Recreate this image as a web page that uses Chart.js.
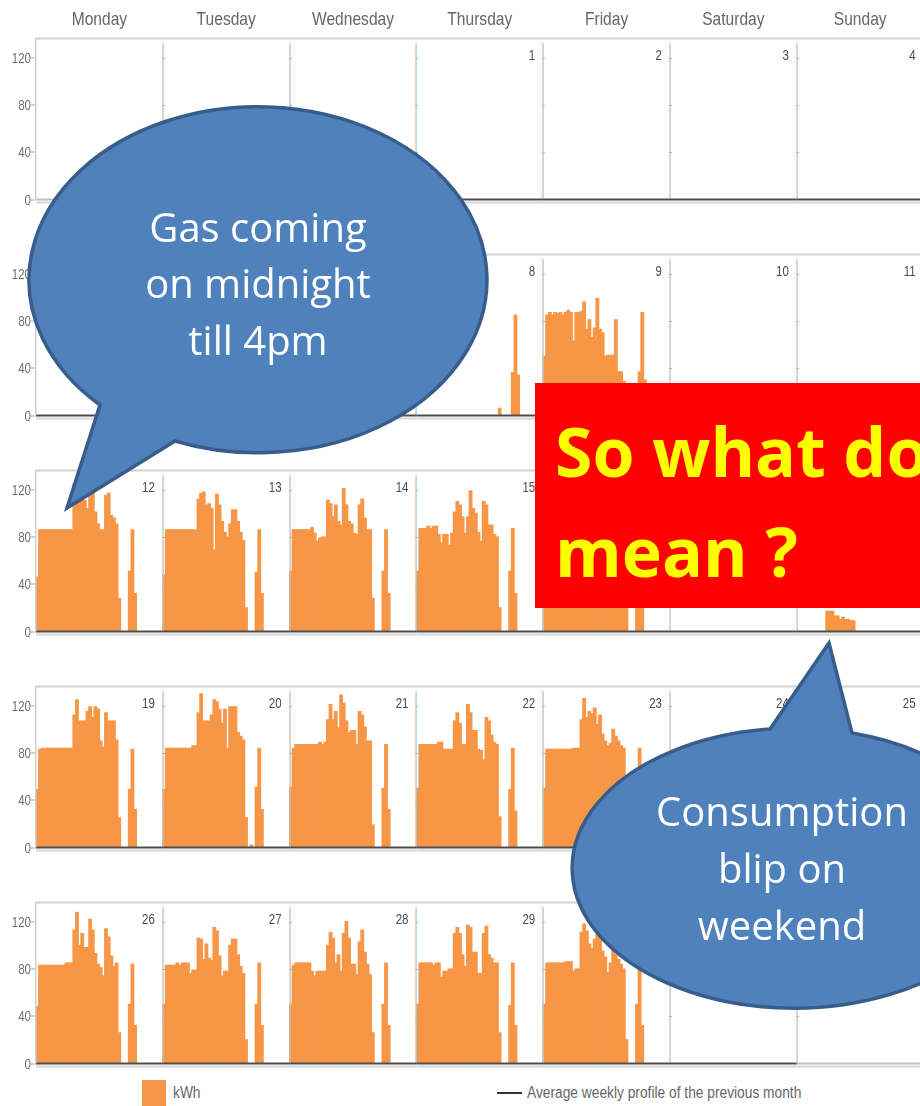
<!DOCTYPE html>
<html>
<head>
<meta charset="utf-8">
<script src="https://cdn.jsdelivr.net/npm/chart.js@4.4.1/dist/chart.umd.min.js"></script>
<style>
  html, body { margin: 0; padding: 0; background: #fff; width: 920px; height: 1106px; overflow: hidden; }
  #calendar { position: absolute; left: 0; top: 0; width: 920px; height: 1106px; }
  .lbl { position: absolute; font: 16px "Liberation Sans", sans-serif; color: #666; transform: scaleX(0.86); transform-origin: 0 0; white-space: nowrap; }
  #notes { position: absolute; left: 0; top: 0; }
</style>
</head>
<body>
<div id="calendar"></div>
<div id="legend"></div>
<svg id="notes" width="920" height="1106">
  <path d="M 100 405 L 67 508 L 175 441 A 229 173 0 1 0 100 405 Z" fill="#4f81bd" stroke="#385d8a" stroke-width="3.5"/>
  <g font-family="Open Sans, sans-serif" font-size="40" fill="#fff" text-anchor="middle">
    <text x="258" y="242">Gas coming</text>
    <text x="258" y="298">on midnight</text>
    <text x="258" y="355">till 4pm</text>
  </g>
  <rect x="535" y="383" width="400" height="225" fill="#ff0000"/>
  <g font-family="Open Sans, sans-serif" font-size="68" font-weight="bold" fill="#ffff00">
    <text x="555" y="477">So what does this</text>
    <text x="555" y="577">mean ?</text>
  </g>
  <path d="M 770 729 L 829 643 L 852 733 A 222 140 0 1 1 770 729 Z" fill="#4f81bd" stroke="#385d8a" stroke-width="3.5"/>
  <g font-family="Open Sans, sans-serif" font-size="40" fill="#fff" text-anchor="middle">
    <text x="782" y="826">Consumption</text>
    <text x="782" y="883">blip on</text>
    <text x="782" y="940">weekend</text>
  </g>
</svg>
<script>
const dayNames = ['Monday', 'Tuesday', 'Wednesday', 'Thursday', 'Friday', 'Saturday', 'Sunday'];
const weekDates = [
  [null, null, null, 1, 2, 3, 4],
  [5, 6, 7, 8, 9, 10, 11],
  [12, 13, 14, 15, 16, 17, 18],
  [19, 20, 21, 22, 23, 24, 25],
  [26, 27, 28, 29, 30, 31, null]
];
const yTicks = [0, 40, 80, 120];
const yMax = 135;
const legendLabels = ['kWh', 'Average weekly profile of the previous month'];

// half-hourly kWh, 48 slots per day
const kwh8  = [0,0,0,0,0,0,0,0,0,0,0,0,0,0,0,0,0,0,0,0,0,0,0,0,0,0,0,0,0,0,0,6,0,0,0,0,36,85,34,0,0,0,0,0,0,0,0,0];
const kwh9  = [50,85,87,85,87,86,87,85,87,89,87,63,87,87,88,96,73,81,66,74,99,73,70,50,51,51,51,81,37,37,29,15,0,0,0,0,37,87,30,0,0,0,0,0,0,0,0,0];
const kwh12 = [46,86,86,86,86,86,86,86,86,86,86,86,86,86,125,128,118,115,111,104,117,117,101,91,86,86,115,117,98,96,91,28,0,0,0,51,86,32,0,0,0,0,0,0,0,0,0,0];
const kwh13 = [48,86,86,86,86,86,86,86,86,86,86,86,86,112,117,118,107,108,104,69,116,107,93,84,80,91,103,103,93,84,77,20,0,0,0,50,86,32,0,0,0,0,0,0,0,0,0,0];
const kwh14 = [51,86,86,86,86,86,86,86,88,83,76,79,80,80,111,108,97,107,93,90,121,107,93,91,83,82,107,112,96,86,86,28,0,0,0,51,86,32,0,0,0,0,0,0,0,0,0,0];
const kwh15 = [51,87,87,87,89,87,89,89,82,75,82,82,73,83,101,110,107,97,83,97,119,104,100,84,76,110,107,90,90,82,80,20,0,0,0,51,87,32,0,0,0,0,0,0,0,0,0,0];
const kwh16 = [50,86,86,86,86,86,86,86,86,86,86,86,86,88,104,112,100,96,92,108,118,98,90,84,80,102,106,92,88,84,80,22,0,0,0,50,86,32,0,0,0,0,0,0,0,0,0,0];
const kwh18 = [0,0,0,0,0,0,0,0,0,0,0,17,17,17,13,13,10,12,10,10,9,9,0,0,0,0,0,0,0,0,0,0,0,0,0,0,0,0,0,0,0,0,0,0,0,0,0,0];
const kwh19 = [49,83,84,84,84,84,84,84,84,84,84,84,84,84,112,125,107,107,107,115,119,110,119,117,90,85,114,107,107,107,91,25,0,0,0,49,83,32,0,0,0,0,0,0,0,0,0,0];
const kwh20 = [49,84,84,84,84,84,84,84,84,84,84,86,86,114,130,107,107,107,112,125,123,117,105,117,84,119,119,119,97,94,91,25,0,2,0,51,84,32,0,0,0,0,0,0,0,0,0,0];
const kwh21 = [51,84,87,87,87,87,87,87,87,87,87,89,87,89,108,121,108,115,101,129,122,107,97,99,99,87,115,112,102,90,90,19,0,0,0,50,87,32,0,0,0,0,0,0,0,0,0,0];
const kwh22 = [50,87,87,87,87,87,87,87,89,89,83,83,83,83,107,114,105,87,87,121,114,99,99,83,82,74,110,107,95,89,87,26,0,0,0,49,84,31,0,0,0,0,0,0,0,0,0,0];
const kwh23 = [50,83,83,83,83,83,83,83,83,83,83,84,84,84,108,126,110,115,113,118,104,112,96,90,86,88,100,94,90,86,84,24,0,0,0,50,84,32,0,0,0,0,0,0,0,0,0,0];
const kwh26 = [48,83,83,83,83,83,83,83,83,83,83,85,85,85,113,128,100,110,98,98,122,113,93,84,81,74,114,107,91,82,85,26,0,0,0,50,84,32,0,0,0,0,0,0,0,0,0,0];
const kwh27 = [50,83,83,83,83,85,83,85,85,85,76,79,79,106,105,88,101,89,87,115,112,91,74,78,78,100,105,105,92,82,76,20,0,0,0,50,85,32,0,0,0,0,0,0,0,0,0,0];
const kwh28 = [50,83,85,85,85,85,85,85,78,74,78,78,78,78,100,111,106,85,92,78,110,120,106,84,84,75,103,113,94,84,75,26,0,0,0,50,85,32,0,0,0,0,0,0,0,0,0,0];
const kwh29 = [50,85,85,85,85,85,83,85,85,73,78,78,80,80,110,115,110,92,82,117,115,94,94,76,76,110,116,92,89,85,85,26,0,0,0,49,85,32,0,0,0,0,0,0,0,0,0,0];
const kwh30 = [50,85,85,85,85,85,85,85,86,86,86,78,80,80,111,118,112,101,97,105,115,108,95,90,77,85,100,92,88,84,80,20,0,0,0,50,85,32,0,0,0,0,0,0,0,0,0,0];

const dailyKwh = {
  8: kwh8, 9: kwh9, 12: kwh12, 13: kwh13, 14: kwh14, 15: kwh15, 16: kwh16, 18: kwh18,
  19: kwh19, 20: kwh20, 21: kwh21, 22: kwh22, 23: kwh23,
  26: kwh26, 27: kwh27, 28: kwh28, 29: kwh29, 30: kwh30
};

const SLOTS = 48;
const barColor = '#f79646';

function narrowText(ctx, text, x, y, size, align, color) {
  ctx.save();
  ctx.font = size + 'px "Liberation Sans", sans-serif';
  ctx.fillStyle = color;
  ctx.textAlign = align;
  ctx.textBaseline = 'alphabetic';
  ctx.translate(x, y);
  ctx.scale(0.82, 1);
  ctx.fillText(text, 0, 0);
  ctx.restore();
}

const calendarGrid = {
  id: 'calendarGrid',
  afterDatasetsDraw(chart, args, opts) {
    const { ctx, chartArea: a, scales: { x, y } } = chart;
    const half = (x.getPixelForValue(1) - x.getPixelForValue(0)) / 2;
    const edge = d => x.getPixelForValue(d * SLOTS) - half;
    const dates = opts.dates;
    ctx.save();

    // top border
    ctx.fillStyle = '#d2d2d2';
    ctx.fillRect(a.left, a.top - 2.5, a.right - a.left + 10, 2);

    // day dividers
    for (let d = 1; d < 7; d++) {
      const px = Math.round(edge(d));
      ctx.fillStyle = 'rgba(245, 170, 130, 0.55)';
      ctx.fillRect(px - 1, a.top + 3, 1, a.bottom - a.top - 3);
      ctx.fillStyle = 'rgba(150, 210, 240, 0.75)';
      ctx.fillRect(px, a.top + 3, 1, a.bottom - a.top - 3);
      ctx.fillStyle = '#b8b8b8';
      yTicks.slice(1).forEach(v => ctx.fillRect(px - 1, Math.round(y.getPixelForValue(v)), 3, 1));
    }

    // baseline per day
    for (let d = 0; d < 7; d++) {
      const x0 = edge(d), x1 = edge(d + 1);
      ctx.fillStyle = dates[d] ? '#4d4d4d' : '#bdbdbd';
      ctx.fillRect(x0, a.bottom - 1, x1 - x0, 2);
      ctx.fillStyle = '#d6d6d6';
      ctx.fillRect(x0, a.bottom + 2, x1 - x0, 2);
    }

    // y axis
    ctx.fillStyle = '#cfcfcf';
    ctx.fillRect(a.left - 1, a.top - 2, 1.5, a.bottom - a.top + 2);
    yTicks.forEach(v => {
      const py = y.getPixelForValue(v);
      ctx.fillStyle = '#aaa';
      ctx.fillRect(a.left - 5, Math.round(py) - 0.5, 4, 1);
      narrowText(ctx, String(v), a.left - 5, py + 5, 14, 'right', '#6e6e6e');
    });

    // day numbers
    dates.forEach((n, d) => {
      if (n) narrowText(ctx, String(n), edge(d + 1) - 8, a.top + 20, 14, 'right', '#4a4a4a');
    });

    // weekday headers
    if (opts.header) {
      dayNames.forEach((name, d) => {
        narrowText(ctx, name, (edge(d) + edge(d + 1)) / 2, a.top - 15, 19, 'center', '#666');
      });
    }
    ctx.restore();
  }
};

function weekSeries(dates) {
  const out = [];
  dates.forEach(n => {
    const day = dailyKwh[n];
    for (let s = 0; s < SLOTS; s++) out.push(day ? day[s] : null);
  });
  return out;
}

function weekLabels() {
  const out = [];
  dayNames.forEach(name => {
    for (let s = 0; s < SLOTS; s++) out.push(name + ' ' + s);
  });
  return out;
}

const calendar = document.getElementById('calendar');
weekDates.forEach((dates, r) => {
  const canvas = document.createElement('canvas');
  canvas.width = 930;
  canvas.height = 216;
  canvas.style.cssText = 'position:absolute;left:0;top:' + (r * 216) + 'px';
  calendar.appendChild(canvas);

  new Chart(canvas.getContext('2d'), {
    type: 'bar',
    data: {
      labels: weekLabels(),
      datasets: [{
        label: legendLabels[0],
        data: weekSeries(dates),
        backgroundColor: barColor,
        borderWidth: 0,
        inflateAmount: 0.6,
        barPercentage: 1,
        categoryPercentage: 1
      }]
    },
    options: {
      responsive: false,
      animation: false,
      layout: { padding: { left: 36, top: 40, right: 6.4, bottom: 16.5 } },
      plugins: {
        legend: { display: false },
        tooltip: { enabled: false },
        calendarGrid: { dates: dates, header: r === 0 }
      },
      scales: {
        x: { display: false, offset: true },
        y: { display: false, min: 0, max: yMax }
      }
    },
    plugins: [calendarGrid]
  });
});

// legend
const legend = document.getElementById('legend');
legend.innerHTML =
  '<div style="position:absolute;left:142px;top:1080px;width:24px;height:26px;background:' + barColor + '"></div>' +
  '<div class="lbl" style="left:173px;top:1084px">' + legendLabels[0] + '</div>' +
  '<div style="position:absolute;left:497px;top:1092px;width:25px;height:2px;background:#333"></div>' +
  '<div class="lbl" style="left:527px;top:1084px">' + legendLabels[1] + '</div>';
</script>
</body>
</html>
